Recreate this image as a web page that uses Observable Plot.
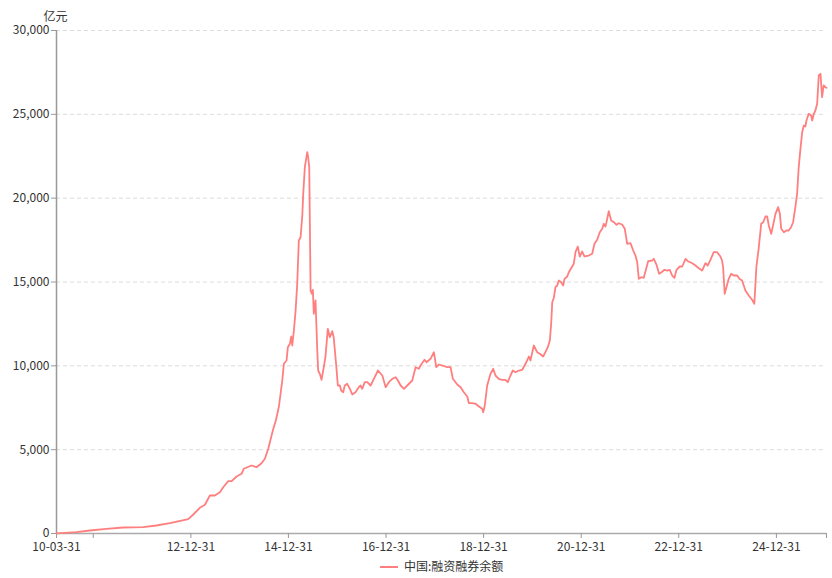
<!DOCTYPE html>
<html><head><meta charset="utf-8">
<script src="https://cdn.jsdelivr.net/npm/d3@7"></script>
<script src="https://cdn.jsdelivr.net/npm/@observablehq/plot@0.6"></script>
<style>
body{margin:0;background:#fff;font-family:"Microsoft YaHei","Noto Sans CJK SC",sans-serif;}
#legend{position:relative;height:22px;font-size:12px;color:#333;}
#legend .sw{position:absolute;left:380px;top:10px;width:18px;height:2px;background:#ff7f7f;}
#legend .tx{position:absolute;left:404px;top:2px;line-height:16px;}
</style></head><body><div id="chart"></div><div id="legend"><span class="sw"></span><span class="tx">中国:融资融券余额</span></div>
<script>
const seriesName = "中国:融资融券余额";
const unitLabel = "亿元";
const dates = ["2010-03-31","2010-08-27","2010-12-05","2011-04-09","2011-08-12","2012-01-09","2012-04-17","2012-07-27","2012-11-16","2012-12-11",
"2013-01-18","2013-03-08","2013-04-15","2013-05-22","2013-06-28","2013-08-05","2013-08-30","2013-10-07","2013-11-01","2013-12-08",
"2014-01-14","2014-01-31","2014-03-30","2014-05-06","2014-06-13","2014-07-08","2014-08-02","2014-08-27","2014-09-09","2014-09-28",
"2014-10-21","2014-11-15","2014-11-27","2014-12-17","2014-12-27","2015-01-11","2015-01-21","2015-01-29","2015-02-10","2015-02-22",
"2015-03-07","2015-03-19","2015-04-01","2015-04-14","2015-04-21","2015-05-03","2015-05-21","2015-05-28","2015-06-05","2015-06-15",
"2015-06-24","2015-07-02","2015-07-09","2015-07-22","2015-07-29","2015-08-04","2015-08-11","2015-08-23","2015-09-05","2015-09-22",
"2015-10-04","2015-10-22","2015-11-06","2015-11-24","2015-12-05","2015-12-24","2016-01-05","2016-01-20","2016-01-30","2016-02-14",
"2016-02-26","2016-03-15","2016-04-04","2016-04-22","2016-05-16","2016-06-10","2016-06-23","2016-07-05","2016-07-25","2016-08-12",
"2016-09-06","2016-10-01","2016-10-31","2016-12-03","2016-12-28","2017-01-21","2017-02-16","2017-03-13","2017-03-30","2017-04-19",
"2017-05-14","2017-06-08","2017-07-15","2017-08-09","2017-09-02","2017-09-15","2017-10-15","2017-10-30","2017-11-29","2017-12-24",
"2018-01-11","2018-01-30","2018-02-25","2018-04-03","2018-04-28","2018-05-15","2018-06-17","2018-07-12","2018-08-05","2018-08-31",
"2018-09-12","2018-10-07","2018-11-01","2018-11-26","2018-12-21","2018-12-28","2019-01-09","2019-01-27","2019-02-21","2019-03-13",
"2019-03-30","2019-04-24","2019-05-19","2019-06-13","2019-06-30","2019-07-20","2019-08-07","2019-08-27","2019-09-21","2019-10-16",
"2019-11-10","2019-12-05","2019-12-17","2020-01-11","2020-02-05","2020-02-25","2020-03-21","2020-04-07","2020-04-25","2020-05-10",
"2020-05-20","2020-05-28","2020-06-09","2020-06-21","2020-07-04","2020-07-16","2020-08-03","2020-08-18","2020-08-28","2020-09-17",
"2020-09-29","2020-10-19","2020-11-05","2020-11-18","2020-12-05","2020-12-20","2021-01-07","2021-01-24","2021-02-25","2021-03-23",
"2021-04-09","2021-04-29","2021-05-19","2021-06-06","2021-06-18","2021-06-30","2021-07-08","2021-07-25","2021-08-12","2021-09-01",
"2021-09-21","2021-10-08","2021-11-02","2021-11-22","2021-12-10","2022-01-04","2022-01-24","2022-02-10","2022-02-23","2022-03-07",
"2022-03-27","2022-04-13","2022-05-03","2022-05-16","2022-06-15","2022-06-27","2022-07-17","2022-08-06","2022-08-24","2022-09-15",
"2022-10-05","2022-10-25","2022-11-12","2022-11-29","2022-12-14","2023-01-08","2023-01-26","2023-02-20","2023-03-09","2023-04-11",
"2023-05-05","2023-05-30","2023-06-24","2023-07-19","2023-08-05","2023-08-25","2023-09-19","2023-10-14","2023-11-08","2023-11-20",
"2023-11-28","2023-12-10","2023-12-23","2024-01-09","2024-01-27","2024-02-15","2024-03-12","2024-03-29","2024-04-18","2024-05-13",
"2024-06-07","2024-07-02","2024-07-19","2024-08-03","2024-08-20","2024-09-08","2024-09-23","2024-10-10","2024-10-23","2024-11-04",
"2024-11-22","2024-12-06","2024-12-24","2025-01-13","2025-01-26","2025-02-05","2025-02-25","2025-03-16","2025-04-02","2025-04-20",
"2025-05-05","2025-05-22","2025-06-04","2025-06-16","2025-06-29","2025-07-12","2025-07-24","2025-08-05","2025-08-13","2025-08-30",
"2025-09-17","2025-09-25","2025-10-07","2025-10-19","2025-11-01","2025-11-13","2025-11-26","2025-12-08","2025-12-16","2025-12-20",
"2026-01-02","2026-01-10"];
const balance = [6,80,180,280,358,376,477,614,817,853,
1133,1533,1712,2266,2266,2463,2761,3119,3119,3400,
3560,3859,4056,3954,4193,4455,5051,5845,6244,6739,
7574,9125,10121,10318,11111,11314,11749,11212,12107,13198,
14892,17474,17671,18966,20260,21846,22740,22442,21846,14492,
14296,14534,13103,13896,12304,10914,9721,9525,9167,9918,
10515,12208,11707,12065,11707,10019,8827,8827,8529,8427,
8827,8928,8630,8290,8427,8725,8827,8630,9024,9024,
8827,9226,9721,9423,8725,9024,9226,9322,9125,8827,
8630,8827,9125,9918,9823,10019,10360,10216,10419,10813,
9918,10079,10019,9918,9918,9226,8886,8725,8427,8171,
7771,7771,7735,7574,7437,7234,7634,8827,9525,9823,
9423,9226,9167,9167,9024,9423,9721,9620,9721,9763,
10121,10556,10318,11212,10813,10717,10556,10813,11111,11511,
12507,13795,14057,14690,14791,15089,14988,14791,15190,15327,
15584,15846,16085,16777,17117,16521,16819,16521,16580,16682,
17278,17516,17970,18172,18471,18309,18566,19222,18667,18566,
18411,18506,18429,18172,17278,17313,16878,16580,16180,15190,
15286,15250,15846,16240,16282,16383,16043,15489,15584,15727,
15685,15727,15387,15250,15727,15924,15924,16383,16240,16121,
15984,15822,15685,16121,15984,16324,16777,16777,16521,16282,
15882,14296,14690,15190,15489,15387,15387,15190,15089,14493,
14194,13938,13699,15882,16980,18471,18566,18906,18906,18369,
17874,18369,19067,19461,19067,18172,17970,18071,18071,18268,
18566,19461,20260,21846,22943,23933,24333,24273,24631,25031,
24930,24631,25031,25228,25627,27315,27416,26021,26522,26719,
26617,26581];
const yTicks = [0,5000,10000,15000,20000,25000,30000];
const xTickDates = ["2010-03-31","2010-12-31","2012-12-31","2014-12-31","2016-12-31","2018-12-31","2020-12-31","2022-12-31","2024-12-31","2026-01-10"];
const xTickLabels = ["10-03-31","","12-12-31","14-12-31","16-12-31","18-12-31","20-12-31","22-12-31","24-12-31",""];

const data = dates.map((d, i) => ({date: new Date(d), value: balance[i]}));
const xTicks = xTickDates.map(d => new Date(d));
const labelMap = new Map(xTicks.map((d, i) => [d.getTime(), xTickLabels[i]]));
const x0 = xTicks[0], x1 = xTicks[xTicks.length - 1];

const chart = Plot.plot({
  width: 832,
  height: 556,
  marginLeft: 56,
  marginRight: 6,
  marginTop: 30,
  marginBottom: 23,
  style: {fontSize: "12px", fontFamily: "'Microsoft YaHei','Noto Sans CJK SC',sans-serif", background: "#fff"},
  x: {type: "utc", domain: [x0, x1]},
  y: {domain: [0, 30000]},
  marks: [
    Plot.gridY(yTicks.filter(v => v > 0), {stroke: "#dcdcdc", strokeOpacity: 1, strokeDasharray: "4,3"}),
    Plot.ruleY([0], {stroke: "#aaa", strokeWidth: 1.5}),
    Plot.ruleX([x0], {y1: 0, y2: 30000, stroke: "#999", strokeWidth: 1.5}),
    Plot.axisY({ticks: yTicks, tickFormat: d3.format(","), tickSize: 5, tickPadding: 2, stroke: "#999", fill: "#333", label: null}),
    Plot.axisX({ticks: xTicks, tickFormat: d => labelMap.get(d.getTime()) ?? "", tickSize: 5, tickPadding: 4, stroke: "#999", fill: "#333", label: null}),
    Plot.line(data, {x: "date", y: "value", stroke: "#ff7f7f", strokeWidth: 1.8}),
    Plot.text([unitLabel], {frameAnchor: "top-left", dx: -1, dy: -18, textAnchor: "middle", fill: "#333", fontSize: 12})
  ]
});
document.getElementById("chart").appendChild(chart);
</script></body></html>
